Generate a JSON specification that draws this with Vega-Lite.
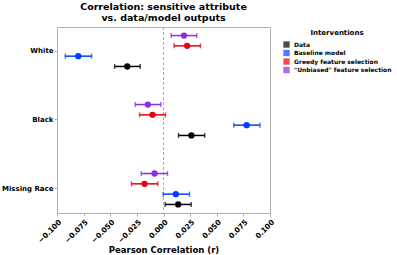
{
  "$schema": "https://vega.github.io/schema/vega-lite/v6.json",
  "width": 213,
  "height": 186,
  "autosize": "none",
  "padding": {"left": 57, "top": 27, "right": 127, "bottom": 42},
  "background": "white",
  "config": {
    "font": "DejaVu Sans",
    "view": {"stroke": "#b0b0b0", "strokeWidth": 1},
    "axis": {"grid": false, "domain": false, "tickColor": "#b0b0b0", "tickSize": 3, "labelColor": "black", "labelFontWeight": "bold", "titleFontWeight": "bold", "titleColor": "black"},
    "axisX": {"labelOverlap": false, "labelAngle": -45, "labelAlign": "right", "labelBaseline": "top", "labelFontSize": 7.3, "labelPadding": 2, "titleFontSize": 8.5, "titleBaseline": "alphabetic", "titleY": 39}
  },
  "title": {
    "text": ["Correlation: sensitive attribute", "vs. data/model outputs"],
    "fontSize": 9.5,
    "fontWeight": "bold",
    "lineHeight": 10.7,
    "offset": 4,
    "anchor": "middle",
    "color": "black"
  },
  "data": {
    "values": [
      {"group": "White", "model": "\"Unbiased\" feature selection", "v": 0.0192, "lo": 0.0072, "hi": 0.0312},
      {"group": "White", "model": "Greedy feature selection", "v": 0.0222, "lo": 0.0100, "hi": 0.0347},
      {"group": "White", "model": "Baseline model", "v": -0.0800, "lo": -0.0922, "hi": -0.0675},
      {"group": "White", "model": "Data", "v": -0.0340, "lo": -0.0459, "hi": -0.0219},
      {"group": "Black", "model": "\"Unbiased\" feature selection", "v": -0.0147, "lo": -0.0266, "hi": -0.0025},
      {"group": "Black", "model": "Greedy feature selection", "v": -0.0103, "lo": -0.0225, "hi": 0.0019},
      {"group": "Black", "model": "Baseline model", "v": 0.0781, "lo": 0.0660, "hi": 0.0906},
      {"group": "Black", "model": "Data", "v": 0.0262, "lo": 0.0141, "hi": 0.0387},
      {"group": "Missing Race", "model": "\"Unbiased\" feature selection", "v": -0.0084, "lo": -0.0209, "hi": 0.0037},
      {"group": "Missing Race", "model": "Greedy feature selection", "v": -0.0178, "lo": -0.0300, "hi": -0.0053},
      {"group": "Missing Race", "model": "Baseline model", "v": 0.0116, "lo": -0.0003, "hi": 0.0244},
      {"group": "Missing Race", "model": "Data", "v": 0.0138, "lo": 0.0016, "hi": 0.0260}
    ]
  },
  "encoding": {
    "y": {
      "field": "group", "type": "nominal", "sort": ["White", "Black", "Missing Race"],
      "scale": {"type": "band", "paddingInner": 0.304, "paddingOuter": 0},
      "axis": {"title": null, "labelFontSize": 7, "labelPadding": 1}
    },
    "yOffset": {
      "field": "model", "type": "nominal",
      "sort": ["\"Unbiased\" feature selection", "Greedy feature selection", "Baseline model", "Data"],
      "scale": {"type": "point", "padding": 0.83}
    },
    "color": {
      "field": "model", "type": "nominal",
      "scale": {
        "domain": ["Data", "Baseline model", "Greedy feature selection", "\"Unbiased\" feature selection"],
        "range": ["#000000", "#023eff", "#e8000b", "#8b2be2"]
      },
      "legend": {
        "title": "Interventions", "orient": "none", "legendX": 226, "legendY": 2,
        "titleFontSize": 7, "titleFontWeight": "bold", "titleAnchor": "middle", "titleColor": "black",
        "labelFontSize": 6, "labelFontWeight": "bold", "labelColor": "black",
        "symbolType": "square", "symbolSize": 40, "symbolStrokeWidth": 0, "rowPadding": 1.5
      }
    }
  },
  "layer": [
    {
      "mark": {"type": "rule", "strokeDash": [3, 2], "color": "#aaaaaa", "strokeWidth": 1},
      "encoding": {"x": {"datum": 0, "type": "quantitative", "axis": {"values": [-0.1, -0.075, -0.05, -0.025, 0, 0.025, 0.05, 0.075, 0.1], "format": ".3f", "title": "Pearson Correlation (r)"}}, "y": null, "yOffset": null, "color": null}
    },
    {
      "mark": {"type": "rule", "strokeWidth": 1.5},
      "encoding": {
        "x": {
          "field": "lo", "type": "quantitative",
          "scale": {"domain": [-0.1, 0.1], "nice": false, "zero": false},
          "axis": {"values": [-0.1, -0.075, -0.05, -0.025, 0, 0.025, 0.05, 0.075, 0.1], "format": ".3f", "title": "Pearson Correlation (r)"}
        },
        "x2": {"field": "hi"}
      }
    },
    {
      "mark": {"type": "tick", "orient": "vertical", "size": 5, "thickness": 1.5},
      "encoding": {"x": {"field": "lo", "type": "quantitative", "axis": {"values": [-0.1, -0.075, -0.05, -0.025, 0, 0.025, 0.05, 0.075, 0.1], "format": ".3f", "title": "Pearson Correlation (r)"}}}
    },
    {
      "mark": {"type": "tick", "orient": "vertical", "size": 5, "thickness": 1.5},
      "encoding": {"x": {"field": "hi", "type": "quantitative", "axis": {"values": [-0.1, -0.075, -0.05, -0.025, 0, 0.025, 0.05, 0.075, 0.1], "format": ".3f", "title": "Pearson Correlation (r)"}}}
    },
    {
      "mark": {"type": "circle", "size": 40, "opacity": 1},
      "encoding": {"x": {"field": "v", "type": "quantitative", "axis": {"values": [-0.1, -0.075, -0.05, -0.025, 0, 0.025, 0.05, 0.075, 0.1], "format": ".3f", "title": "Pearson Correlation (r)"}}}
    }
  ]
}
